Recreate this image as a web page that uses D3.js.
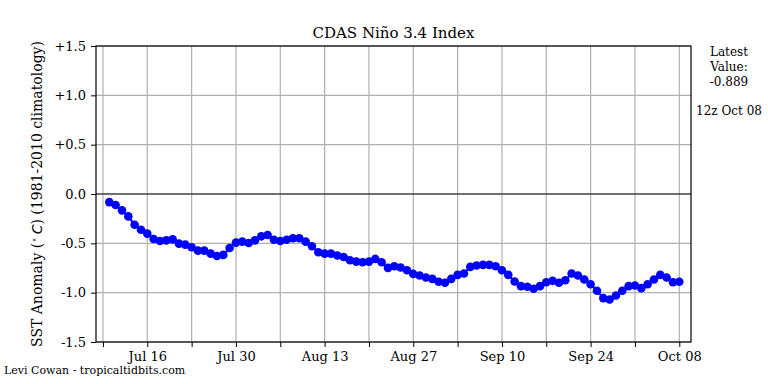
<!DOCTYPE html>
<html>
<head>
<meta charset="utf-8">
<style>
body { margin: 0; background: #fff; }
text { font-family: "DejaVu Serif", serif; fill: #000; }
</style>
</head>
<body>
<script src="https://cdn.jsdelivr.net/npm/d3@7"></script>
<script>

// daily values, Jul 10 .. Oct 08
var startDate = "2024-07-10";
var anomaly = [
  -0.082, -0.112, -0.166, -0.227, -0.311, -0.362, -0.402, -0.456, -0.476, -0.470,
  -0.460, -0.503, -0.513, -0.540, -0.574, -0.574, -0.604, -0.628, -0.617, -0.547,
  -0.493, -0.483, -0.496, -0.470, -0.429, -0.415, -0.463, -0.476, -0.463, -0.449,
  -0.449, -0.483, -0.530, -0.591, -0.604, -0.604, -0.624, -0.638, -0.672, -0.685,
  -0.692, -0.685, -0.658, -0.692, -0.749, -0.732, -0.745, -0.773, -0.810, -0.826,
  -0.846, -0.860, -0.890, -0.900, -0.860, -0.820, -0.806, -0.739, -0.725, -0.718,
  -0.718, -0.732, -0.773, -0.820, -0.887, -0.934, -0.940, -0.960, -0.934, -0.894,
  -0.880, -0.900, -0.874, -0.806, -0.826, -0.867, -0.914, -0.981, -1.055, -1.069,
  -1.028, -0.981, -0.934, -0.927, -0.954, -0.914, -0.867, -0.820, -0.846, -0.894,
  -0.889
];
var yTicks = [1.5, 1.0, 0.5, 0.0, -0.5, -1.0, -1.5];
var yTickLabels = ["+1.5", "+1.0", "+0.5", "0.0", "-0.5", "-1.0", "-1.5"];
var xTickDates = ["2024-07-09", "2024-07-16", "2024-07-23", "2024-07-30", "2024-08-06",
  "2024-08-13", "2024-08-20", "2024-08-27", "2024-09-03", "2024-09-10", "2024-09-17",
  "2024-09-24", "2024-10-01", "2024-10-08"];
var xTickLabels = ["", "Jul 16", "", "Jul 30", "", "Aug 13", "", "Aug 27", "",
  "Sep 10", "", "Sep 24", "", "Oct 08"];

var width = 768, height = 384;
var margin = {left: 96, right: 77, top: 46, bottom: 42};

var parse = d3.utcParse("%Y-%m-%d");
var day = 864e5;
var t0 = parse(startDate);
var data = anomaly.map(function(v, i) {
  return {date: new Date(t0.getTime() + i * day), value: v};
});

var x = d3.scaleUtc()
    .domain([new Date(parse("2024-07-08").getTime() - 0.1 * day),
             new Date(parse("2024-10-09").getTime() + 0.85 * day)])
    .range([margin.left, width - margin.right]);

var y = d3.scaleLinear()
    .domain([-1.5, 1.5])
    .range([height - margin.bottom, margin.top]);

var svg = d3.select("body").append("svg")
    .attr("width", width)
    .attr("height", height);

// grid
svg.append("g")
  .selectAll("line.vgrid")
  .data(xTickDates)
  .enter().append("line")
    .attr("x1", function(d) { return x(parse(d)); })
    .attr("x2", function(d) { return x(parse(d)); })
    .attr("y1", y(1.5))
    .attr("y2", y(-1.5))
    .style("stroke", "#b0b0b0")
    .style("stroke-width", 1.2);

svg.append("g")
  .selectAll("line.hgrid")
  .data(yTicks)
  .enter().append("line")
    .attr("x1", x.range()[0])
    .attr("x2", x.range()[1])
    .attr("y1", function(d) { return y(d); })
    .attr("y2", function(d) { return y(d); })
    .style("stroke", function(d) { return d === 0 ? "#404040" : "#b0b0b0"; })
    .style("stroke-width", function(d) { return d === 0 ? 1.5 : 1.2; });

// data line and markers
var line = d3.line()
    .x(function(d) { return x(d.date); })
    .y(function(d) { return y(d.value); });

svg.append("path")
    .datum(data)
    .attr("d", line)
    .style("fill", "none")
    .style("stroke", "#0000ff")
    .style("stroke-width", 2);

svg.append("g")
  .selectAll("circle")
  .data(data)
  .enter().append("circle")
    .attr("cx", function(d) { return x(d.date); })
    .attr("cy", function(d) { return y(d.value); })
    .attr("r", 4.3)
    .style("fill", "#0000ff");

// frame
svg.append("rect")
    .attr("x", x.range()[0])
    .attr("y", y(1.5))
    .attr("width", x.range()[1] - x.range()[0])
    .attr("height", y(-1.5) - y(1.5))
    .style("fill", "none")
    .style("stroke", "#000")
    .style("stroke-width", 1.2);

// axes
var xAxis = d3.axisBottom(x)
    .tickValues(xTickDates.map(parse))
    .tickFormat(function(d, i) { return xTickLabels[i]; })
    .tickSize(5)
    .tickPadding(5);

var gx = svg.append("g")
    .attr("transform", "translate(0," + y(-1.5) + ")")
    .call(xAxis);
gx.select(".domain").remove();
gx.selectAll("text").style("font-family", "DejaVu Serif").style("font-size", "13px");

var yAxis = d3.axisLeft(y)
    .tickValues(yTicks)
    .tickFormat(function(d, i) { return yTickLabels[i]; })
    .tickSize(5)
    .tickPadding(5);

var gy = svg.append("g")
    .attr("transform", "translate(" + x.range()[0] + ",0)")
    .call(yAxis);
gy.select(".domain").remove();
gy.selectAll("text").style("font-family", "DejaVu Serif").style("font-size", "13px");

// title
svg.append("text")
    .attr("x", (x.range()[0] + x.range()[1]) / 2)
    .attr("y", 38)
    .attr("text-anchor", "middle")
    .style("font-size", "15px")
    .text("CDAS Niño 3.4 Index");

// y label
var yl = svg.append("text")
    .attr("transform", "translate(42," + y(0) + ") rotate(-90)")
    .attr("text-anchor", "middle")
    .style("font-size", "14px");
yl.append("tspan").text("SST Anomaly (");
yl.append("tspan").attr("dy", -5).style("font-size", "9px").style("font-family", "DejaVu Sans").text("\u2218");
yl.append("tspan").attr("dy", 5).text("\u2009");
yl.append("tspan").style("font-style", "italic").style("font-family", "DejaVu Sans").text("C");
yl.append("tspan").text(") (1981-2010 climatology)");

// latest value box
var latest = anomaly[anomaly.length - 1];
var side = svg.append("g").attr("text-anchor", "middle").style("font-size", "12px");
side.append("text").attr("x", 729).attr("y", 56).text("Latest");
side.append("text").attr("x", 729).attr("y", 71).text("Value:");
side.append("text").attr("x", 729).attr("y", 86).text(latest.toFixed(3));
side.append("text").attr("x", 729).attr("y", 115).text("12z Oct 08");

// credit
svg.append("text")
    .attr("x", 4)
    .attr("y", 374)
    .style("font-size", "11px")
    .text("Levi Cowan - tropicaltidbits.com");

</script>
</body>
</html>
